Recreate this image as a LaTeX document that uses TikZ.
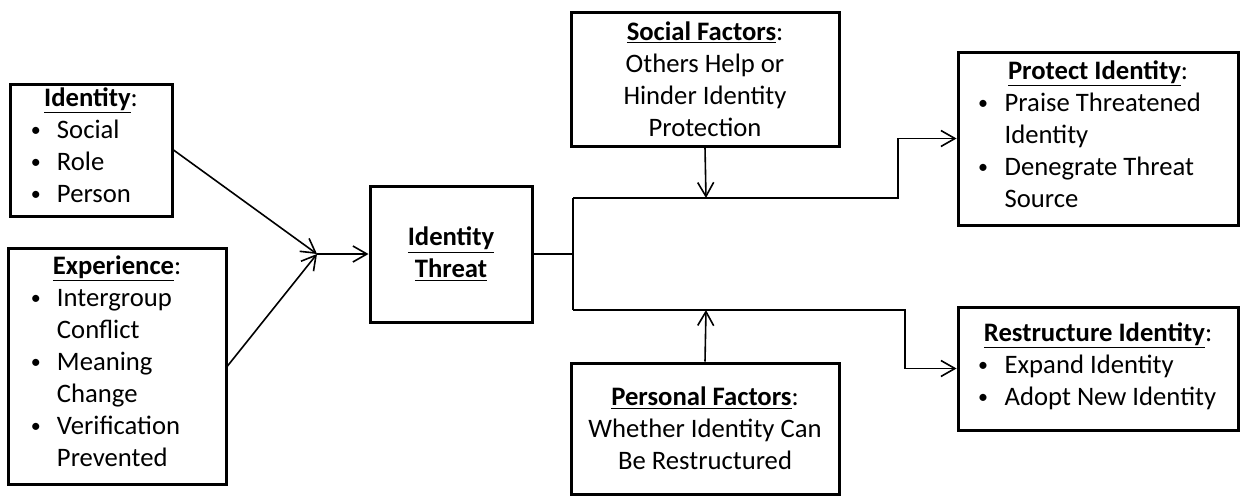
\documentclass[tikz,border=0pt]{standalone}
\usepackage{fontspec}
\setmainfont{Carlito}
\usetikzlibrary{arrows.meta}
\newcommand{\bl}{\raisebox{1.5pt}{\scalebox{0.75}{\textbullet}}}
\newcommand{\hd}[1]{\textbf{\underline{#1}}}
\begin{document}
\begin{tikzpicture}[x=0.75pt,y=-0.75pt,
  box/.style={draw, line width=2.25pt, inner sep=0pt, font=\fontsize{20pt}{24pt}\selectfont},
  conn/.style={line width=1.2pt},
  arr/.style={conn, -{Straight Barb[length=10.5pt,width=12pt,line width=1.2pt]}},
]
\useasboundingbox (0,0) rectangle (1248,496);

\node[box, minimum width=121.5pt, minimum height=99pt, align=left] (id) at (91,150)
 {\makebox[90pt]{\hd{Identity}:}\\
  \makebox[90pt][l]{\begin{tabular}[t]{@{}p{19.5pt}@{}l@{}}
 \bl & Social\\ \bl & Role\\ \bl & Person\end{tabular}}};

\node[box, minimum width=163.5pt, minimum height=177pt, align=left] (exp) at (117,366)
 {\makebox[129pt]{\hd{Experience}:}\\
  \makebox[129pt][l]{\begin{tabular}[t]{@{}p{19.5pt}@{}l@{}}
 \bl & Intergroup\\ & Conflict\\ \bl & Meaning\\ & Change\\ \bl & Verification\\ & Prevented\end{tabular}}};

\node[box, minimum width=121.5pt, minimum height=102pt, align=center] (threat) at (451,254)
 {\hd{Identity}\\\hd{Threat}};

\node[box, minimum width=201pt, minimum height=100.5pt, align=center] (soc) at (705,79)
 {\hd{Social Factors}:\\Others Help or\\Hinder Identity\\Protection};

\node[box, minimum width=201pt, minimum height=98.25pt, align=center] (pers) at (705,428.5)
 {\hd{Personal Factors}:\\Whether Identity Can\\Be Restructured};

\node[box, minimum width=210pt, minimum height=129.75pt, align=left] (prot) at (1098,138.5)
 {\makebox[180pt]{\hd{Protect Identity}:}\\
  \makebox[180pt][l]{\begin{tabular}[t]{@{}p{20pt}@{}l@{}}
 \bl & Praise Threatened\\ & Identity\\ \bl & Denegrate Threat\\ & Source\end{tabular}}};

\node[box, minimum width=210pt, minimum height=92.25pt, align=left] (rest) at (1098,368.5)
 {\makebox[180pt]{\hd{Restructure Identity}:}\\
  \makebox[180pt][l]{\begin{tabular}[t]{@{}p{20pt}@{}l@{}}
 \bl & Expand Identity\\ \bl & Adopt New Identity\end{tabular}}};

\coordinate (m) at (317,254);
\coordinate (j) at (573,254);
\coordinate (jt) at (573,198);
\coordinate (jb) at (573,310);
\coordinate (ts) at (706,198);
\coordinate (bs) at (706,310);
\coordinate (tr) at (898,198);
\coordinate (br) at (905,310);

\draw[arr] (id.east) -- (m);
\draw[arr] (exp.east) -- (m);
\draw[arr] (m) -- (threat.west);
\draw[conn] (threat.east) -- (j);
\draw[conn] (jt) -- (jb);
\draw[arr] (jt) -- (tr) |- (prot.west);
\draw[arr] (jb) -- (br) |- (rest.west);
\draw[arr] (soc.south) -- (ts);
\draw[arr] (pers.north) -- (bs);
\end{tikzpicture}
\end{document}
